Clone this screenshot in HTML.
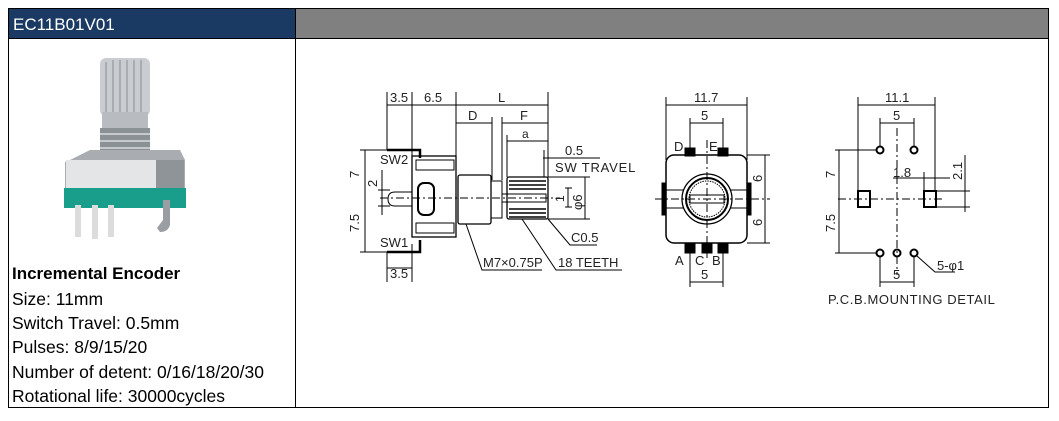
<!DOCTYPE html>
<html><head><meta charset="utf-8"><style>
html,body{margin:0;padding:0;background:#fff;}
body{width:1059px;height:421px;position:relative;overflow:hidden;font-family:"Liberation Sans",sans-serif;}
.t{position:absolute;left:12px;font-size:17.5px;color:#000;line-height:20px;white-space:nowrap;}
</style></head><body>
<svg width="1059" height="421" style="position:absolute;left:0;top:0" font-family="Liberation Sans, sans-serif">
<rect x="8" y="8" width="288" height="30" fill="#1b3a63"/>
<rect x="296" y="8" width="753" height="30" fill="#808080"/>
<text x="13" y="30" font-size="17" fill="#fff">EC11B01V01</text>
<rect x="8.5" y="8.5" width="1040" height="399" fill="none" stroke="#000" stroke-width="1"/>
<line x1="295.5" y1="8" x2="295.5" y2="408" stroke="#000"/>
<line x1="8" y1="38.5" x2="1049" y2="38.5" stroke="#000"/>
<!-- product photo -->
<g>
<rect x="100" y="58" width="50" height="58" rx="6" fill="#c9ccd0"/>
<g stroke="#9ea3a8" stroke-width="1.5"><line x1="106" y1="62" x2="106" y2="112"/><line x1="113" y1="60" x2="113" y2="114"/><line x1="120" y1="60" x2="120" y2="114"/><line x1="127" y1="60" x2="127" y2="114"/><line x1="134" y1="60" x2="134" y2="114"/><line x1="141" y1="60" x2="141" y2="112"/></g>
<rect x="102" y="112" width="46" height="20" fill="#b8bcc0"/>
<rect x="100" y="128" width="50" height="30" fill="#8c9196"/>
<g stroke="#c5c8cc" stroke-width="2"><line x1="100" y1="134" x2="150" y2="134"/><line x1="100" y1="141" x2="150" y2="141"/><line x1="100" y1="148" x2="150" y2="148"/></g>
<polygon points="70,160 90,150 180,150 185,160 185,190 65,190 65,162" fill="#a9adb2"/>
<rect x="66" y="160" width="90" height="30" fill="#e3e5e7"/>
<rect x="156" y="160" width="28" height="30" fill="#8f9499"/>
<rect x="64" y="188" width="122" height="20" fill="#1a9e8c"/>
<rect x="75" y="205" width="6" height="32" fill="#dcdcdc"/><rect x="92" y="205" width="6" height="34" fill="#dcdcdc"/><rect x="108" y="205" width="6" height="32" fill="#dcdcdc"/>
<path d="M163 200 L170 200 L170 225 Q168 232 160 232 L157 228 L163 220 Z" fill="#9a9ea3"/>
</g>
<g stroke="#000" stroke-width="1" fill="none">
<line x1="387" y1="92" x2="387" y2="150"/><line x1="412" y1="92" x2="412" y2="156"/><line x1="456" y1="92" x2="456" y2="175"/><line x1="548" y1="92" x2="548" y2="177"/>
<line x1="387" y1="105" x2="548" y2="105"/>
<line x1="492" y1="117" x2="492" y2="180"/><line x1="502" y1="117" x2="502" y2="180"/><line x1="507" y1="135" x2="507" y2="177"/>
<line x1="456" y1="123" x2="492" y2="123"/><line x1="502" y1="123" x2="548" y2="123"/><line x1="507" y1="141" x2="548" y2="141"/>
<line x1="543" y1="158" x2="551" y2="158"/><line x1="551" y1="158" x2="600" y2="158"/><line x1="544" y1="150" x2="544" y2="177"/>
<line x1="548" y1="177" x2="590" y2="177"/><line x1="548" y1="219" x2="590" y2="219"/><line x1="585" y1="177" x2="585" y2="219"/>
<line x1="565" y1="188" x2="572" y2="188"/><line x1="565" y1="207" x2="572" y2="207"/><line x1="568" y1="188" x2="568" y2="207"/>
<line x1="360" y1="150" x2="387" y2="150"/><line x1="360" y1="252" x2="387" y2="252"/><line x1="365" y1="150" x2="365" y2="252"/>
<line x1="378" y1="190" x2="390" y2="190"/><line x1="378" y1="206" x2="390" y2="206"/><line x1="382" y1="170" x2="382" y2="215"/>
<line x1="387" y1="252" x2="387" y2="282"/><line x1="412" y1="244" x2="412" y2="282"/><line x1="387" y1="268" x2="412" y2="268"/>
<rect x="412" y="156" width="44" height="81" stroke-width="1.3"/>
<rect x="416" y="160" width="38" height="10"/><rect x="416" y="223" width="38" height="10"/>
<path d="M387 150 L420 150 L420 158" stroke-width="2.5"/><path d="M387 252 L420 252 L420 240" stroke-width="2.5"/>
<rect x="418" y="183" width="16" height="32" rx="6" stroke-width="2"/>
<path d="M412 192 L395 192 Q388 192 388 199 Q388 206 395 206 L412 206"/>
<rect x="458" y="175" width="33" height="49" rx="2" stroke-width="1.3"/>
<rect x="491" y="181" width="11" height="37"/>
<rect x="507" y="177" width="41" height="42" rx="2" stroke-width="1.3"/>
<g stroke-width="1.5"><line x1="509" y1="181" x2="546" y2="181"/><line x1="509" y1="185" x2="546" y2="185"/><line x1="509" y1="189" x2="546" y2="189"/><line x1="509" y1="209" x2="546" y2="209"/><line x1="509" y1="213" x2="546" y2="213"/><line x1="509" y1="217" x2="546" y2="217"/></g>
<rect x="502" y="194" width="44" height="8"/>
<line x1="380" y1="198" x2="560" y2="198" stroke-dasharray="8,3,2,3"/>
<polyline points="466,224 482,270 542,270"/><polyline points="522,219 556,270 622,270"/><polyline points="548,219 570,245 597,245"/>
<line x1="666" y1="97" x2="666" y2="160"/><line x1="747" y1="97" x2="747" y2="160"/><line x1="666" y1="105" x2="747" y2="105"/>
<line x1="690" y1="118" x2="690" y2="150"/><line x1="723" y1="118" x2="723" y2="150"/><line x1="690" y1="123" x2="723" y2="123"/>
<rect x="666" y="155" width="81" height="88" rx="8" stroke-width="1.5"/>
<rect x="685" y="148" width="10" height="8" fill="#000"/><rect x="718" y="148" width="10" height="8" fill="#000"/>
<rect x="685" y="243" width="10" height="10" fill="#000"/><rect x="702" y="243" width="10" height="10" fill="#000"/><rect x="718" y="243" width="10" height="10" fill="#000"/>
<rect x="662" y="183" width="4" height="32" fill="#000"/><rect x="747" y="183" width="4" height="32" fill="#000"/>
<line x1="666" y1="190" x2="747" y2="190"/><line x1="666" y1="208" x2="747" y2="208"/>
<circle cx="707" cy="199" r="25" fill="#fff" stroke-width="1.3"/><circle cx="707" cy="199" r="21" stroke-width="2"/><circle cx="707" cy="199" r="18" stroke-dasharray="1.5,1"/>
<rect x="690" y="195" width="34" height="8" fill="#fff"/>
<line x1="707" y1="140" x2="707" y2="258" stroke-dasharray="8,3,2,3"/><line x1="655" y1="199" x2="770" y2="199" stroke-dasharray="8,3,2,3"/>
<line x1="747" y1="155" x2="770" y2="155"/><line x1="747" y1="243" x2="770" y2="243"/><line x1="765" y1="155" x2="765" y2="243"/>
<line x1="690" y1="253" x2="690" y2="287"/><line x1="723" y1="253" x2="723" y2="287"/><line x1="690" y1="282" x2="723" y2="282"/>
<line x1="858" y1="97" x2="858" y2="191"/><line x1="935" y1="97" x2="935" y2="191"/><line x1="858" y1="105" x2="935" y2="105"/>
<line x1="880" y1="118" x2="880" y2="146"/><line x1="914" y1="118" x2="914" y2="146"/><line x1="880" y1="123" x2="914" y2="123"/>
<line x1="897" y1="128" x2="897" y2="275" stroke-dasharray="8,3,2,3"/><line x1="838" y1="199" x2="945" y2="199" stroke-dasharray="8,3,2,3"/>
<circle cx="880" cy="150" r="3.5" stroke-width="2"/><circle cx="914" cy="150" r="3.5" stroke-width="2"/>
<circle cx="880" cy="253" r="3.5" stroke-width="2"/><circle cx="897" cy="253" r="3.5" stroke-width="2"/><circle cx="914" cy="253" r="3.5" stroke-width="2"/>
<rect x="858" y="191" width="12" height="16" stroke-width="2"/><rect x="924" y="191" width="12" height="16" stroke-width="2"/>
<line x1="835" y1="150" x2="876" y2="150"/><line x1="835" y1="253" x2="876" y2="253"/><line x1="839" y1="150" x2="839" y2="253"/>
<line x1="893" y1="178" x2="950" y2="178"/><line x1="924" y1="172" x2="924" y2="191"/>
<line x1="936" y1="191" x2="970" y2="191"/><line x1="936" y1="207" x2="970" y2="207"/><line x1="965" y1="155" x2="965" y2="212"/>
<polyline points="917,256 935,272 955,272"/>
<line x1="880" y1="257" x2="880" y2="287"/><line x1="914" y1="257" x2="914" y2="287"/><line x1="880" y1="282" x2="914" y2="282"/>
</g>
<g font-size="13" fill="#222">
<text x="390" y="102">3.5</text><text x="424" y="102">6.5</text><text x="498" y="102">L</text>
<text x="468" y="120">D</text><text x="520" y="120">F</text><text x="522" y="138" font-size="12">a</text>
<text x="565" y="155">0.5</text><text x="555" y="172" letter-spacing="0.8">SW TRAVEL</text>
<text x="380" y="164">SW2</text><text x="380" y="247">SW1</text>
<text x="390" y="278">3.5</text>
<text x="483" y="267">M7×0.75P</text><text x="558" y="267">18 TEETH</text><text x="571" y="242">C0.5</text>
<text transform="translate(359,178) rotate(-90)">7</text><text transform="translate(359,232) rotate(-90)">7.5</text><text transform="translate(377,187) rotate(-90)">2</text>
<text transform="translate(564,202) rotate(-90)" font-size="12">1</text><text transform="translate(582,210) rotate(-90)">φ6</text>
<text x="694" y="102">11.7</text><text x="701" y="120">5</text>
<text x="674" y="151">D</text><text x="709" y="151">E</text>
<text x="675" y="265">A</text><text x="695" y="265">C</text><text x="712" y="265">B</text><text x="701" y="279">5</text>
<text transform="translate(762,182) rotate(-90)">6</text><text transform="translate(762,226) rotate(-90)">6</text>
<text x="885" y="102">11.1</text><text x="893" y="120">5</text><text x="893" y="177">1.8</text>
<text transform="translate(962,180) rotate(-90)">2.1</text>
<text transform="translate(835,178) rotate(-90)">7</text><text transform="translate(835,232) rotate(-90)">7.5</text>
<text x="937" y="270">5-φ1</text><text x="893" y="279">5</text>
<text x="828" y="304" letter-spacing="0.6">P.C.B.MOUNTING DETAIL</text>
</g>
</svg>
<div class="t" style="top:264px;font-weight:bold;font-size:17px">Incremental Encoder</div>
<div class="t" style="top:289px">Size: 11mm</div>
<div class="t" style="top:313px">Switch Travel: 0.5mm</div>
<div class="t" style="top:337px">Pulses: 8/9/15/20</div>
<div class="t" style="top:362px">Number of detent: 0/16/18/20/30</div>
<div class="t" style="top:386px">Rotational life: 30000cycles</div>
</body></html>
